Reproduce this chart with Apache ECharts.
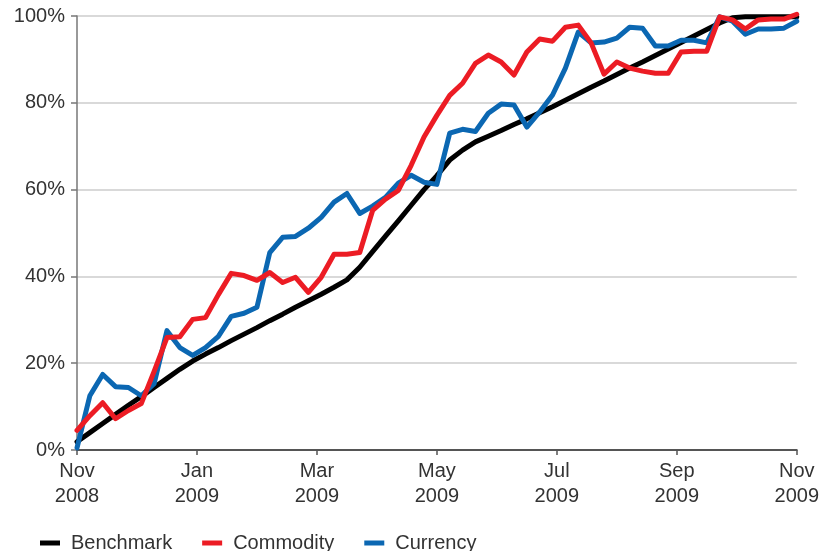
<!DOCTYPE html>
<html>
<head>
<meta charset="utf-8">
<script src="https://cdn.jsdelivr.net/npm/echarts@6/dist/echarts.min.js"></script>
<style>
html,body{margin:0;padding:0;background:#fff;}
#chart{width:822px;height:551px;}
</style>
</head>
<body>
<div id="chart"></div>
<script>
// Weekly observation index (Nov 2008 -> Nov 2009)
var weeks = Array.from({length: 57}, function (_, i) { return i; });
// Month tick labels (every 2 months)
var monthLabels = ['Nov\n2008', 'Jan\n2009', 'Mar\n2009', 'May\n2009', 'Jul\n2009', 'Sep\n2009', 'Nov\n2009'];
var yTicks = [0, 20, 40, 60, 80, 100];

var benchmark = [1.9,4.0,6.1,8.2,10.3,12.3,14.4,16.5,18.6,20.5,
  22.1,23.6,25.2,26.7,28.2,29.8,31.3,32.9,34.4,35.9,
  37.5,39.2,42.1,45.7,49.3,52.8,56.4,60.0,63.2,66.8,
  69.1,71.0,72.3,73.6,75.0,76.3,77.7,79.1,80.6,82.1,
  83.6,85.0,86.5,88.0,89.4,90.9,92.4,93.9,95.4,96.9,
  98.4,99.6,99.8,99.8,99.8,99.8,99.8];

var commodity = [4.5,7.9,10.9,7.2,9.1,10.7,18.1,25.9,26.1,30.1,
  30.5,35.8,40.7,40.2,39.1,40.9,38.6,39.8,36.3,39.8,
  45.1,45.1,45.5,55.2,57.8,59.8,65.6,72.1,77.1,81.7,
  84.5,89.1,91.0,89.4,86.4,91.7,94.7,94.2,97.4,97.9,
  93.8,86.6,89.4,88.0,87.3,86.8,86.8,91.7,91.9,91.9,
  99.8,99.1,97.0,99.1,99.3,99.3,100.4];

var currency = [0.5,12.5,17.4,14.6,14.4,12.5,15.3,27.5,23.6,21.8,
  23.6,26.2,30.8,31.5,32.9,45.5,49.0,49.2,51.1,53.6,
  57.1,59.1,54.5,56.2,58.2,61.5,63.3,61.7,61.2,73.0,
  73.9,73.4,77.6,79.7,79.5,74.4,77.9,81.8,88.0,96.3,
  93.8,94.0,94.9,97.4,97.2,93.1,93.1,94.4,94.4,93.8,
  99.8,98.8,95.8,97.0,97.0,97.2,98.8];

var textColor = '#333333';
var fontFamily = '"Liberation Sans", Arial, Helvetica, sans-serif';

var chart = echarts.init(document.getElementById('chart'), null, {renderer: 'canvas'});

function lineSeries(name, data, color, z) {
  return {
    name: name,
    type: 'line',
    data: data,
    xAxisIndex: 0,
    yAxisIndex: 0,
    symbol: 'none',
    clip: false,
    z: z,
    lineStyle: {color: color, width: 5, cap: 'round', join: 'round'},
    itemStyle: {color: color},
    emphasis: {disabled: true}
  };
}

chart.setOption({
  animation: false,
  backgroundColor: '#ffffff',
  textStyle: {fontFamily: fontFamily},
  grid: {left: 77, right: 24, top: 16, bottom: 101, containLabel: false},
  legend: {
    left: 35,
    top: 528,
    icon: 'rect',
    itemWidth: 20,
    itemHeight: 5,
    itemGap: 30,
    textStyle: {fontSize: 20, color: textColor, fontFamily: fontFamily, padding: [0, 0, 0, 6]},
    data: ['Benchmark', 'Commodity', 'Currency']
  },
  xAxis: [
    {
      type: 'category',
      data: weeks,
      boundaryGap: false,
      show: false
    },
    {
      type: 'value',
      min: 0,
      max: 12,
      interval: 2,
      position: 'bottom',
      axisLine: {show: true, lineStyle: {color: '#555555', width: 2}},
      axisTick: {show: true, length: 5, lineStyle: {color: '#555555', width: 1.5}},
      splitLine: {show: false},
      axisLabel: {
        margin: 9,
        fontSize: 20,
        lineHeight: 25,
        color: textColor,
        fontFamily: fontFamily,
        formatter: function (v) { return monthLabels[Math.round(v / 2)]; }
      }
    }
  ],
  yAxis: {
    type: 'value',
    min: yTicks[0],
    max: yTicks[yTicks.length - 1],
    interval: 20,
    axisLine: {show: true, lineStyle: {color: '#777777', width: 1.5}},
    axisTick: {show: true, length: 6, lineStyle: {color: '#777777', width: 1.5}},
    splitLine: {show: true, lineStyle: {color: '#cccccc', width: 1.5}},
    axisLabel: {
      margin: 12,
      fontSize: 20,
      color: textColor,
      fontFamily: fontFamily,
      formatter: '{value}%'
    }
  },
  series: [
    lineSeries('Benchmark', benchmark, '#000000', 2),
    lineSeries('Commodity', commodity, '#EC1C24', 4),
    lineSeries('Currency', currency, '#0B67B2', 3)
  ]
});
</script>
</body>
</html>
